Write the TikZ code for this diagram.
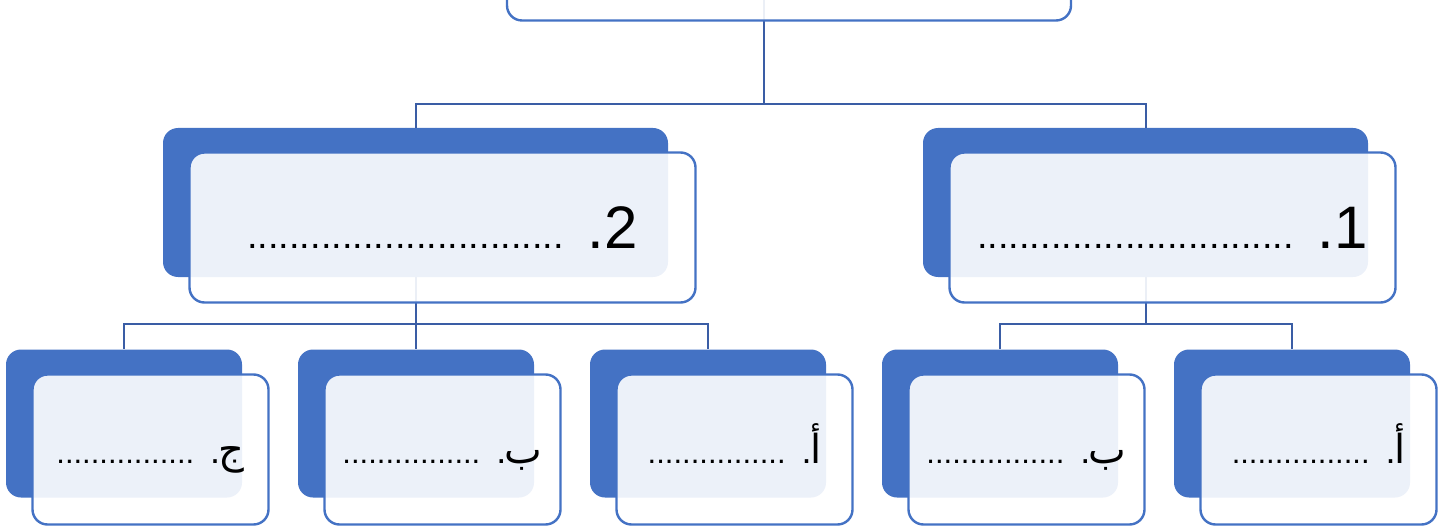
\documentclass[tikz,border=0pt]{standalone}
\usepackage{fontspec}
\setmainfont{Liberation Sans}
\newfontfamily\arabicfont[Script=Arabic]{DejaVu Sans}
\TeXXeTstate=1
\usetikzlibrary{
  positioning
  , calc
}

\definecolor{boxblue}{HTML}{4472C4}
\definecolor{linkblue}{HTML}{3A5DA5}

% boxes: blue card behind, light card in front
\tikzset{
  backbox/.style={rectangle, rounded corners=7.5pt, fill=boxblue, inner sep=0pt},
  frontbox/.style={rectangle, rounded corners=7.5pt, draw=boxblue, line width=1.2pt,
    fill=white, fill opacity=0.9, text opacity=1, inner sep=0pt, align=center},
  bigbox/.style={minimum width=222.5pt, minimum height=74.5pt},
  smallbox/.style={minimum width=118pt, minimum height=74pt},
  link/.style={draw=linkblue, line width=1pt},
}

\newcommand{\mainitem}[1]{{\fontsize{30}{32}\selectfont\beginR #1\kern0pt.\hspace{12pt}{\fontsize{19}{20}\selectfont ..............................}\endR}}
\newcommand{\kiditem}[1]{\raisebox{-7pt}[0pt][0pt]{\beginR{\arabicfont\fontsize{20}{22}\selectfont #1}\kern-0.7pt{\fontsize{18}{20}\selectfont .}\hspace{8pt}{\fontsize{15.5}{16}\selectfont ................}\endR}}

\begin{document}
\begin{tikzpicture}[x=0.5pt, y=-0.5pt]
      \useasboundingbox (0,0) rectangle (1450,529);
      \clip (0,0) rectangle (1450,529);

      % back cards
      \node [backbox, minimum width=282pt, minimum height=74.5pt] (top) at (764,-79){};
      \node [backbox, bigbox, minimum width=252.5pt] (two) at (415.5,202.5){};
      \node [backbox, bigbox] (one) at (1145.5,202.5){};
      \node [backbox, smallbox] (twoc) at (124,423.5){};
      \node [backbox, smallbox] (twob) at (416,423.5){};
      \node [backbox, smallbox] (twoa) at (708,423.5){};
      \node [backbox, smallbox] (oneb) at (1000,423.5){};
      \node [backbox, smallbox] (onea) at (1292,423.5){};

      % connectors
      \draw[link] (top.south) |- ([yshift=12pt]two.north) -- (two.north);
      \draw[link] (top.south) |- ([yshift=12pt]one.north) -- (one.north);
      \foreach \kid in {twoa, twob, twoc}
        \draw[link] (two.south) |- ([yshift=12.5pt]\kid.north) -- (\kid.north);
      \foreach \kid in {onea, oneb}
        \draw[link] (one.south) |- ([yshift=12.5pt]\kid.north) -- (\kid.north);

      % front cards
      \node [frontbox, minimum width=282pt, minimum height=75pt] (top-f) at ([shift={(25,24.5)}]top){};
      \node [frontbox, bigbox, minimum width=253pt, minimum height=75pt] (two-f) at ([shift={(27,25)}]two){\mainitem{2}};
      \node [frontbox, bigbox, minimum width=223pt, minimum height=75pt] (one-f) at ([shift={(27,25)}]one){\mainitem{1}};
      \node [frontbox, smallbox, minimum height=75pt] (twoc-f) at ([shift={(26.5,26)}]twoc){\kiditem{ج}};
      \node [frontbox, smallbox, minimum height=75pt] (twob-f) at ([shift={(26.5,26)}]twob){\kiditem{ب}};
      \node [frontbox, smallbox, minimum height=75pt] (twoa-f) at ([shift={(26.5,26)}]twoa){\kiditem{أ}};
      \node [frontbox, smallbox, minimum height=75pt] (oneb-f) at ([shift={(26.5,26)}]oneb){\kiditem{ب}};
      \node [frontbox, smallbox, minimum height=75pt] (onea-f) at ([shift={(26.5,26)}]onea){\kiditem{أ}};
    \end{tikzpicture}
\end{document}
